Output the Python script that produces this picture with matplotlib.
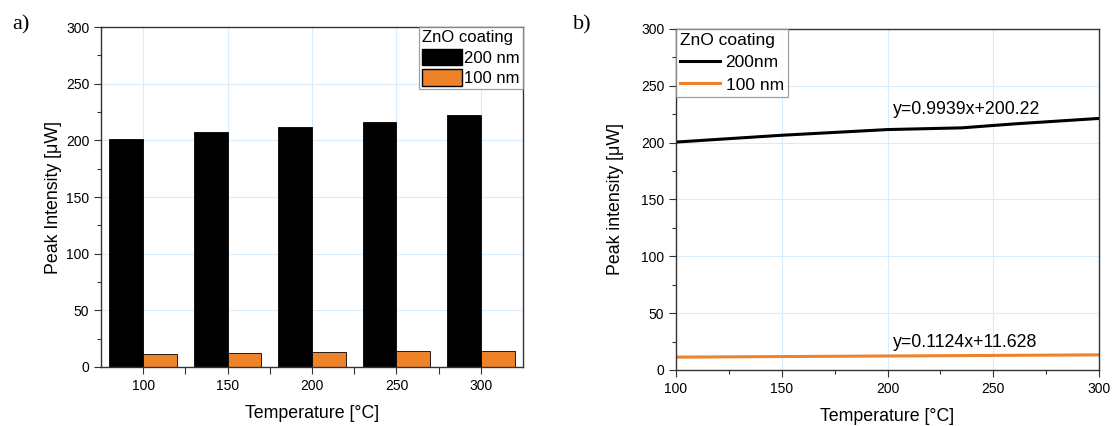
""" Peak intensity vs temperature for two ZnO coating thicknesses.
"""
import matplotlib
matplotlib.use("Agg")
import matplotlib.pyplot as plt
from matplotlib.patches import Patch
from matplotlib.lines import Line2D
from matplotlib.ticker import MultipleLocator

# data
temps = [100, 150, 200, 250, 300]
peak_200nm = [201.3, 207.1, 211.6, 216.3, 222.1]
peak_100nm = [11.7, 12.4, 12.8, 13.8, 14.3]

# line panel (b) - points along the drawn curves
line_x_200 = [100, 150, 200, 235, 260, 300]
line_y_200 = [200.5, 206.5, 211.5, 213.0, 216.5, 221.3]
line_x_100 = [100, 150, 200, 250, 300]
line_y_100 = [11.3, 11.8, 12.3, 12.8, 13.3]

fit_200 = "y=0.9939x+200.22"
fit_100 = "y=0.1124x+11.628"

BLACK = "#000000"
ORANGE = "#ee8229"
GRID = "#d9ecfb"

plt.rcParams["font.family"] = ["Liberation Sans", "DejaVu Sans"]
plt.rcParams["font.size"] = 10

fig = plt.figure(figsize=(11.15, 4.26), dpi=100)

#-------------------------------------------------------------------------------
def style_axes(ax):
    ax.tick_params(which="major", direction="out", length=5, width=0.8,
                   labelsize=10, top=False, right=False, colors="#333333",
                   labelcolor="black")
    ax.tick_params(which="minor", direction="out", length=3, width=0.8,
                   top=False, right=False, colors="#333333")
    ax.set_ylim(0, 300)
    ax.yaxis.set_major_locator(MultipleLocator(50))
    ax.yaxis.set_minor_locator(MultipleLocator(25))
    ax.grid(True, which="major", color=GRID, linewidth=0.8)
    ax.set_axisbelow(True)
    for sp in ax.spines.values():
        sp.set_linewidth(1.0)
        sp.set_color("#333333")

#-------------------------------------------------------------------------------
# a) bar chart
ax1 = fig.add_axes([0.0906, 0.1385, 0.3785, 0.798])
style_axes(ax1)
pos = list(range(len(temps)))
width = 0.4
ax1.bar([p - width / 2 for p in pos], peak_200nm, width, color=BLACK,
        edgecolor="black", linewidth=0.6)
ax1.bar([p + width / 2 for p in pos], peak_100nm, width, color=ORANGE,
        edgecolor="black", linewidth=0.6)
ax1.set_xlim(-0.5, len(temps) - 0.5)
ax1.set_xticks(pos)
ax1.set_xticklabels([str(t) for t in temps])
ax1.set_xticks([p + 0.5 for p in pos[:-1]], minor=True)
ax1.tick_params(axis="x", which="minor", length=5)
ax1.set_xlabel("Temperature [°C]", fontsize=12.8, labelpad=9)
ax1.set_ylabel("Peak Intensity [μW]", fontsize=12.8, labelpad=3)

handles1 = [Patch(facecolor=BLACK, edgecolor="black", label="200 nm"),
            Patch(facecolor=ORANGE, edgecolor="black", label="100 nm")]
leg1 = ax1.legend(handles=handles1, title="ZnO coating", loc="upper right",
                  borderaxespad=0, fancybox=False, edgecolor="#888888",
                  fontsize=12, title_fontsize=12, alignment="left",
                  handlelength=2.35, handleheight=1.15, handletextpad=0.15,
                  labelspacing=0.2, borderpad=0.2)
leg1.get_frame().set_linewidth(0.9)

fig.text(0.011, 0.93, "a)", family=["Liberation Serif", "DejaVu Serif"],
         fontsize=16)

#-------------------------------------------------------------------------------
# b) line chart
ax2 = fig.add_axes([0.6063, 0.1315, 0.3794, 0.8005])
style_axes(ax2)
ax2.plot(line_x_200, line_y_200, color=BLACK, linewidth=2.2)
ax2.plot(line_x_100, line_y_100, color=ORANGE, linewidth=2.2)
ax2.set_xlim(100, 300)
ax2.xaxis.set_major_locator(MultipleLocator(50))
ax2.xaxis.set_minor_locator(MultipleLocator(25))
ax2.set_xlabel("Temperature [°C]", fontsize=12.8, labelpad=9)
ax2.set_ylabel("Peak intensity [μW]", fontsize=12.8, labelpad=12)

ax2.text(202.5, 229.5, fit_200, fontsize=12.8, va="center", ha="left")
ax2.text(202.5, 24, fit_100, fontsize=12.8, va="center", ha="left")

handles2 = [Line2D([], [], color=BLACK, linewidth=2.2, label="200nm"),
            Line2D([], [], color=ORANGE, linewidth=2.2, label="100 nm")]
leg2 = ax2.legend(handles=handles2, title="ZnO coating", loc="upper left",
                  borderaxespad=0, fancybox=False, edgecolor="#888888",
                  fontsize=12.5, title_fontsize=12.5, alignment="left",
                  handlelength=2.3, handletextpad=0.3,
                  labelspacing=0.4, borderpad=0.25)
leg2.get_frame().set_linewidth(0.9)

fig.text(0.514, 0.93, "b)", family=["Liberation Serif", "DejaVu Serif"],
         fontsize=16)

fig.savefig("out.png", dpi=100)
